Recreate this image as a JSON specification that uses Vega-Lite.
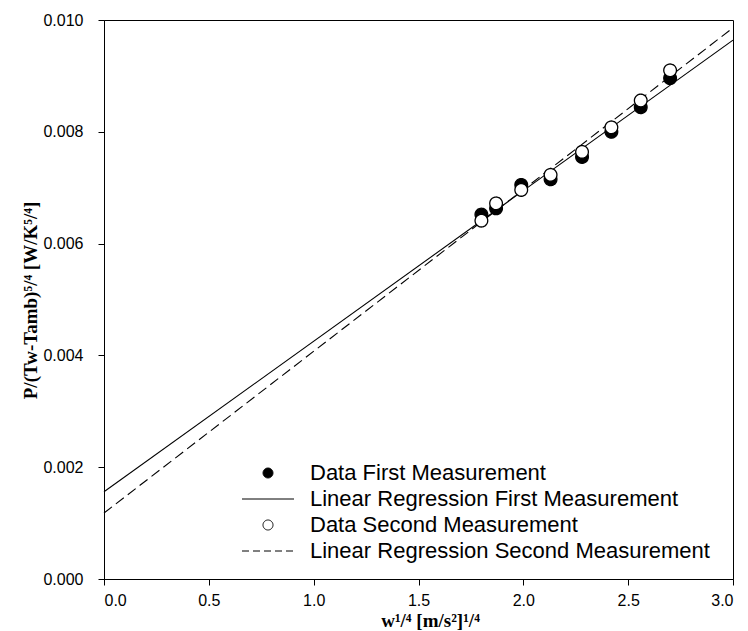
{
  "$schema": "https://vega.github.io/schema/vega-lite/v6.json",
  "autosize": {"type": "none"},
  "padding": {"left": 104, "top": 20, "right": 15, "bottom": 52},
  "width": 629,
  "height": 559,
  "background": "white",
  "config": {
    "view": {"stroke": "black", "strokeWidth": 1},
    "axis": {
      "grid": false,
      "domainColor": "black",
      "tickColor": "black",
      "tickSize": 6,
      "labelColor": "black",
      "labelFont": "Liberation Sans",
      "labelFontSize": 16,
      "titleColor": "black",
      "titleFont": "Liberation Serif",
      "titleFontSize": 19,
      "titleFontWeight": "bold"
    },
    "legend": {
      "title": null,
      "orient": "none",
      "legendX": 153,
      "legendY": 442,
      "padding": 0,
      "symbolSize": 100,
      "symbolStrokeWidth": 1,
      "labelFont": "Liberation Sans",
      "labelFontSize": 22,
      "labelColor": "black",
      "labelLimit": 600,
      "labelOffset": 31,
      "rowPadding": 4
    }
  },
  "datasets": {
    "pts": [
      {"series": "Data First Measurement", "x": 1.80, "y": 0.00652},
      {"series": "Data First Measurement", "x": 1.87, "y": 0.00663},
      {"series": "Data First Measurement", "x": 1.99, "y": 0.00705},
      {"series": "Data First Measurement", "x": 2.13, "y": 0.00715},
      {"series": "Data First Measurement", "x": 2.28, "y": 0.00755},
      {"series": "Data First Measurement", "x": 2.42, "y": 0.00800},
      {"series": "Data First Measurement", "x": 2.56, "y": 0.00844},
      {"series": "Data First Measurement", "x": 2.70, "y": 0.00896},
      {"series": "Data Second Measurement", "x": 1.80, "y": 0.00641},
      {"series": "Data Second Measurement", "x": 1.87, "y": 0.00672},
      {"series": "Data Second Measurement", "x": 1.99, "y": 0.00696},
      {"series": "Data Second Measurement", "x": 2.13, "y": 0.00723},
      {"series": "Data Second Measurement", "x": 2.28, "y": 0.00764},
      {"series": "Data Second Measurement", "x": 2.42, "y": 0.00808},
      {"series": "Data Second Measurement", "x": 2.56, "y": 0.00856},
      {"series": "Data Second Measurement", "x": 2.70, "y": 0.00910}
    ],
    "fits": [
      {"series": "Linear Regression First Measurement", "x": 0, "y": 0.00156},
      {"series": "Linear Regression First Measurement", "x": 3, "y": 0.00964},
      {"series": "Linear Regression Second Measurement", "x": 0, "y": 0.00118},
      {"series": "Linear Regression Second Measurement", "x": 3, "y": 0.00986}
    ]
  },
  "encoding": {
    "x": {
      "field": "x", "type": "quantitative",
      "scale": {"domain": [0, 3], "nice": false, "zero": false},
      "axis": {
        "values": [0, 0.5, 1, 1.5, 2, 2.5, 3],
        "format": ".1f",
        "labelPadding": 7,
        "title": "w¹/⁴ [m/s²]¹/⁴",
        "titleX": 326,
        "titleY": 47,
        "titleBaseline": "alphabetic",
        "titleAnchor": "middle"
      }
    },
    "y": {
      "field": "y", "type": "quantitative",
      "scale": {"domain": [0, 0.01], "nice": false},
      "axis": {
        "values": [0, 0.002, 0.004, 0.006, 0.008, 0.01],
        "format": ".3f",
        "labelPadding": 15,
        "title": "P/(Tw-Tamb)⁵/⁴ [W/K⁵/⁴]",
        "titleX": -74,
        "titleY": 280,
        "titleAngle": 270,
        "titleBaseline": "middle",
        "titleAnchor": "middle"
      }
    }
  },
  "layer": [
    {
      "data": {"name": "fits"},
      "transform": [{"filter": "datum.series == 'Linear Regression First Measurement'"}],
      "mark": {"type": "line", "color": "black", "strokeWidth": 1.1},
      "encoding": {}
    },
    {
      "data": {"name": "fits"},
      "transform": [{"filter": "datum.series == 'Linear Regression Second Measurement'"}],
      "mark": {"type": "line", "color": "black", "strokeWidth": 1.1, "strokeDash": [10, 5]},
      "encoding": {}
    },
    {
      "data": {"name": "pts"},
      "mark": {"type": "point", "filled": false, "color": "black", "strokeWidth": 1.3, "size": 160, "opacity": 1},
      "encoding": {
        "order": {"field": "series", "sort": "ascending"},
        "shape": {
          "field": "series", "type": "nominal", "title": null,
          "scale": {
            "domain": ["Data First Measurement", "Linear Regression First Measurement", "Data Second Measurement", "Linear Regression Second Measurement"],
            "range": ["circle", "M-5.2,0H5.2", "circle", "M-5.2,0H5.2"]
          }
        },
        "fill": {
          "field": "series", "type": "nominal", "title": null,
          "scale": {
            "domain": ["Data First Measurement", "Linear Regression First Measurement", "Data Second Measurement", "Linear Regression Second Measurement"],
            "range": ["black", "transparent", "white", "transparent"]
          }
        },
        "stroke": {
          "field": "series", "type": "nominal", "title": null,
          "scale": {
            "domain": ["Data First Measurement", "Linear Regression First Measurement", "Data Second Measurement", "Linear Regression Second Measurement"],
            "range": ["black", "black", "black", "black"]
          }
        },
        "strokeDash": {
          "field": "series", "type": "nominal", "title": null,
          "scale": {
            "domain": ["Data First Measurement", "Linear Regression First Measurement", "Data Second Measurement", "Linear Regression Second Measurement"],
            "range": [[1, 0], [1, 0], [1, 0], [7, 4]]
          }
        }
      }
    }
  ]
}
